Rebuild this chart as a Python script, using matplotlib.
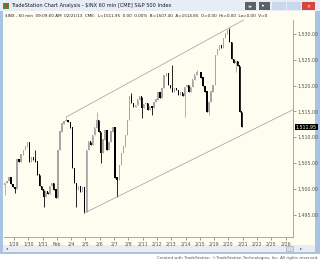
import matplotlib.pyplot as plt
from matplotlib.patches import Rectangle
import numpy as np

# hourly closes, one list per session (60 min bars, $INX)
close_0128 = [1501.1, 1501.5, 1502.1, 1500.9, 1500.3]
close_0129 = [1499.9, 1505.6, 1505.2, 1506.6, 1507.5, 1508.1, 1508.9]
close_0130 = [1505.2, 1506.0, 1505.6, 1505.2, 1502.7, 1500.5, 1499.8]
close_0131 = [1498.4, 1499.4, 1499.0, 1500.5, 1501.1, 1499.8, 1498.2]
close_0201 = [1507.5, 1511.0, 1512.6, 1513.1, 1513.3, 1512.9, 1511.8]
close_0204 = [1504.0, 1501.1, 1499.8, 1500.5, 1499.4, 1500.2, 1495.5]
close_0205 = [1507.5, 1509.1, 1508.5, 1510.4, 1511.8, 1513.3, 1511.0]
close_0206 = [1507.0, 1509.5, 1511.2, 1507.5, 1509.0, 1511.0, 1511.8]
close_0207 = [1502.1, 1501.7, 1504.6, 1506.9, 1508.1, 1510.4, 1513.3]
close_0208 = [1517.8, 1516.6, 1515.9, 1516.2, 1517.2, 1517.8, 1515.7]
close_0211 = [1516.4, 1516.6, 1515.3, 1515.9, 1515.7, 1516.8, 1517.2]
close_0212 = [1518.6, 1517.6, 1519.5, 1521.9, 1522.4, 1520.1, 1519.5]
close_0213 = [1518.8, 1519.5, 1519.1, 1518.2, 1518.6, 1518.0, 1519.7]
close_0214 = [1520.1, 1518.8, 1519.7, 1521.1, 1522.1, 1522.6, 1522.6]
close_0215 = [1521.5, 1519.9, 1518.8, 1514.9, 1516.8, 1518.8, 1520.1]
close_0219 = [1525.9, 1526.9, 1527.7, 1527.3, 1529.2, 1530.0, 1530.6]
close_0220 = [1528.4, 1525.1, 1524.3, 1524.7, 1523.8, 1514.9, 1511.95]

# wicks that stick out of the bodies (bar index -> price)
high_wicks = {15: 1507.5, 30: 1513.9, 45: 1514.9, 62: 1518.6, 82: 1524.0,
              94: 1523.0, 110: 1531.2}
low_wicks = {0: 1498.8, 5: 1499.2, 19: 1496.5, 35: 1496.5, 39: 1495.3,
             47: 1505.0, 55: 1498.4, 67: 1513.7, 72: 1514.3, 88: 1513.9,
             100: 1514.3, 113: 1522.6}

# trend channel anchors (bar index, price)
upper_line = ([30, 110], [1513.9, 1531.2])
lower_line = ([39, 141], [1495.3, 1515.3])

day_labels = ['1/29', '1/30', '1/31', 'Feb', '2/4', '2/5', '2/6', '2/7', '2/8',
              '2/11', '2/12', '2/13', '2/14', '2/15', '2/19', '2/20', '2/21',
              '2/22', '2/25', '2/26']
price_ticks = [1495, 1500, 1505, 1510, 1515, 1520, 1525, 1530]
last_price = 1511.95

closes = np.array(close_0128 + close_0129 + close_0130 + close_0131 + close_0201 +
                  close_0204 + close_0205 + close_0206 + close_0207 + close_0208 +
                  close_0211 + close_0212 + close_0213 + close_0214 + close_0215 +
                  close_0219 + close_0220)
opens = np.r_[closes[0] - 0.3, closes[:-1]]
idx = np.arange(len(closes))

W, H = 320, 260
fig = plt.figure(figsize=(W / 100, H / 100), dpi=100, facecolor='white')


def box(x, y, w, h, color, **kw):
    fig.patches.append(Rectangle((x / W, 1 - (y + h) / H), w / W, h / H,
                                 transform=fig.transFigure, facecolor=color,
                                 edgecolor=kw.pop('ec', 'none'), lw=kw.pop('lw', 0),
                                 zorder=-10, **kw))


def label(x, y, s, **kw):
    fig.text(x / W, 1 - y / H, s, va='center', **kw)


# window chrome
box(0, 0, W, 254, '#a9c3e2')
box(0, 0, W, 11, '#e6edf6')
box(3, 11, 312, 234, '#fffcf0')
box(3, 245, 312, 7, '#e9edf2')
box(286, 246, 7, 5, '#d5dbe3', ec='#9aa6b4', lw=0.4)
box(3, 3, 6, 6, '#4a8a3a')
box(5, 4, 3, 3, '#d63a2a')
box(245, 2, 11, 8, '#5c6168')
box(259, 2, 11, 8, '#5c6168')
box(272, 2, 14, 8, '#c9d8ea')
box(287, 2, 14, 8, '#c9d8ea')
box(302, 2, 13, 8, '#d9443a')
label(11, 6, 'TradeStation Chart Analysis - $INX 60 min [CME] S&P 500 Index',
      fontsize=3.6, color='#1a1a1a')
label(248, 6, '$▾', fontsize=3, color='white')
label(262, 6, 'I▾', fontsize=3, color='white')
label(306, 6, '✕', fontsize=3.5, color='white')
label(5, 15.5, '$INX - 60 min  09:09:00 AM  02/21/13  CME:  L=1511.95  0.00  0.00%  '
      'B=1507.40  A=1514.85  O=0.00  Hi=0.00  Lo=0.00  V=0',
      fontsize=3.0, color='#222222')
label(6, 248.5, '◂', fontsize=3, color='#555555')
label(300, 248.5, '▸', fontsize=3, color='#555555')
label(318, 257.5, 'Created with TradeStation. ©TradeStation Technologies, Inc. All rights reserved.',
      fontsize=2.9, color='#555555', ha='right')

ax = fig.add_axes([4 / W, (H - 237) / H, (293 - 4) / W, (237 - 20) / H])
ax.patch.set_alpha(0)

up = closes >= opens
highs = np.maximum(opens, closes)
lows = np.minimum(opens, closes)
for i, p in high_wicks.items():
    highs[i] = p
for i, p in low_wicks.items():
    lows[i] = p
colors = np.where(up, '#a6a6a6', '#000000')

ax.vlines(idx, lows, highs, colors=colors, lw=0.6)
ax.bar(idx, np.abs(closes - opens) + 0.1, bottom=np.minimum(opens, closes),
       width=0.65, color=colors, lw=0)

# channel lines, stretched out to the right edge
x_end = 141.5
for xs, ys in (upper_line, lower_line):
    slope = (ys[1] - ys[0]) / (xs[1] - xs[0])
    ax.plot([xs[0], x_end], [ys[0], ys[0] + slope * (x_end - xs[0])],
            color='#9c9c9c', lw=0.5)

ax.set_xlim(-0.4, 141.1)
ax.set_ylim(1490.66, 1532.7)

ax.set_xticks([4.5 + 7 * k for k in range(len(day_labels))])
ax.set_xticklabels(day_labels)
ax.set_yticks(price_ticks)
ax.set_yticklabels([f'{v:,.2f}' for v in price_ticks])
ax.yaxis.tick_right()
ax.tick_params(axis='both', labelsize=3.4, colors='#555555', length=2, width=0.4, pad=1.5)
for s in ('left', 'top'):
    ax.spines[s].set_visible(False)
for s in ('right', 'bottom'):
    ax.spines[s].set_color('#9a9a9a')
    ax.spines[s].set_linewidth(0.6)

ax.text(1.01, last_price, f'{last_price:,.2f}', transform=ax.get_yaxis_transform(),
        fontsize=3.4, color='white', va='center', ha='left',
        bbox=dict(boxstyle='square,pad=0.15', fc='black', ec='none'))

fig.savefig('out.png', dpi=100)
